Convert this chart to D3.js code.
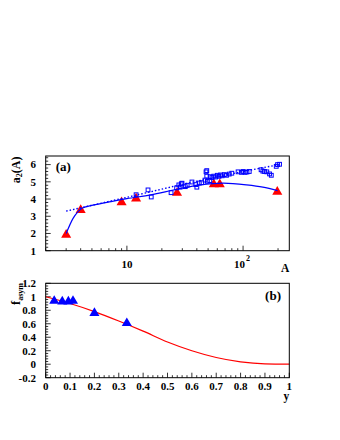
<!DOCTYPE html>
<html><head><meta charset="utf-8">
<script src="https://cdn.jsdelivr.net/npm/d3@7"></script>
<style>
body{margin:0;background:#fff}
text{font-family:"Liberation Serif","Times New Roman",serif;font-weight:bold;fill:#000}
</style>
</head><body>
<svg id="c" width="340" height="440"></svg>
<script>
// ---------- Panel (a) data ----------
const triA   = [3, 4, 9, 12, 27, 56, 63, 197];
const triA2  = [1.97, 3.41, 3.85, 4.08, 4.4, 4.9, 4.9, 4.47];

const sqA  = [12, 15.2, 16.2, 24, 26.8, 28, 28.7, 29.4, 29.8, 31.8, 33, 36.3, 39.2, 40, 42, 44, 47, 48, 48.7, 48.7, 49.3, 51.7, 52, 54, 56, 58, 60, 62, 64, 66, 69, 72, 76, 80, 90.6, 97, 100, 104, 108, 113, 143, 148, 153, 160, 169, 175, 193, 198, 206];
const sqA2 = [4.25, 4.53, 4.12, 4.37, 4.65, 4.82, 4.69, 4.88, 4.92, 4.72, 4.8, 4.99, 4.84, 4.69, 4.93, 4.95, 5.1, 5.58, 5.33, 5.65, 5.03, 5.07, 5.3, 5.25, 5.33, 5.28, 5.38, 5.32, 5.4, 5.35, 5.42, 5.38, 5.45, 5.5, 5.58, 5.55, 5.6, 5.55, 5.57, 5.6, 5.7, 5.62, 5.6, 5.58, 5.46, 5.38, 5.9, 6.0, 6.02];

const fitA  = [3, 3.44, 3.8, 4.1, 5.26, 7.3, 10, 16, 27, 42.8, 67.6, 107, 148, 198];
const fitA2 = [2.0, 2.88, 3.27, 3.47, 3.66, 3.85, 4.02, 4.24, 4.57, 4.82, 4.92, 4.82, 4.69, 4.49];

const dotA  = [3, 10, 30, 100, 205];
const dotA2 = [3.3, 4.1, 4.85, 5.6, 6.0];

const aYTicks = [1, 2, 3, 4, 5, 6];
const aXMajor = [10, 100];
const aXMinor = [2,3,4,5,6,7,8,9,20,30,40,50,60,70,80,90,200];

// ---------- Panel (b) data ----------
const bY    = [0.035, 0.068, 0.093, 0.112, 0.2, 0.333];
const bF    = [0.95, 0.94, 0.94, 0.95, 0.77, 0.62];
const curveY = [0, 0.1, 0.2, 0.3, 0.4, 0.5, 0.6, 0.7, 0.8, 0.9, 1.0];
const curveF = [1.0, 0.9, 0.78, 0.64, 0.49, 0.33, 0.2, 0.1, 0.035, 0.005, 0.0];

const bYTicks = [-0.2, 0, 0.2, 0.4, 0.6, 0.8, 1, 1.2];
const bYLabels = ["-0.2","0","0.2","0.4","0.6","0.8","1","1.2"];
const bXTicks = [0,0.1,0.2,0.3,0.4,0.5,0.6,0.7,0.8,0.9,1];
const bXLabels = ["0","0.1","0.2","0.3","0.4","0.5","0.6","0.7","0.8","0.9","1"];

// ---------- drawing ----------
const svg = d3.select("#c");
svg.append("rect").attr("width",340).attr("height",440).attr("fill","#fff");

const L = 45.7, R = 289.3;
const MAJ = 5, MIN = 2.5;

// Panel (a)
const xa = d3.scaleLog().domain([2, 250]).range([L, R]);
const ya = d3.scaleLinear().domain([1, 6.5]).range([250.7, 156]);
const ga = svg.append("g");

function tickLines(g, list, fn) {
  list.forEach(v => { const [x1,y1,x2,y2] = fn(v);
    g.append("line").attr("x1",x1).attr("y1",y1).attr("x2",x2).attr("y2",y2)
      .attr("stroke","#000").attr("stroke-width",0.8); });
}

const aYMinor = d3.range(1, 6.5001, 0.2).filter(v => Math.abs(v - Math.round(v)) > 1e-6);
tickLines(ga, aYTicks, v => [L, ya(v), L+MAJ, ya(v)]);
tickLines(ga, aYMinor, v => [L, ya(v), L+MIN, ya(v)]);
tickLines(ga, aXMajor, v => [xa(v), ya(1), xa(v), ya(1)-MAJ]);
tickLines(ga, aXMinor, v => [xa(v), ya(1), xa(v), ya(1)-MIN]);

ga.selectAll("text.yl").data(aYTicks).enter().append("text")
  .attr("x", 36).attr("y", d => ya(d)).attr("dy","0.35em")
  .attr("text-anchor","end").attr("font-size",11).text(d => d);

ga.append("text").attr("x", xa(10)).attr("y", 267.5).attr("text-anchor","middle")
  .attr("font-size",11).text("10");
const t100 = ga.append("text").attr("x", xa(100)-1).attr("y", 267.5).attr("text-anchor","middle").attr("font-size",11);
t100.append("tspan").text("10");
t100.append("tspan").attr("font-size",8).attr("dy",-7).attr("dx",1).text("2");

ga.append("text").attr("x", R).attr("y", 271.7).attr("text-anchor","end").attr("font-size",11.5).text("A");

const ta = ga.append("text").attr("transform","translate(19.5,156.5) rotate(-90)")
  .attr("text-anchor","end").attr("font-size",12);
ta.append("tspan").text("a");
ta.append("tspan").attr("font-size",8).attr("dy",2.5).text("2");
ta.append("tspan").attr("dy",-2.5).text("(A)");

ga.append("text").attr("x",55.7).attr("y",170.5).attr("font-size",13).text("(a)");

// marks (a)
const triData = triA.map((a,i) => ({a, v: triA2[i]}));
ga.selectAll("path.tri").data(triData).enter().append("path")
  .attr("d", d3.symbol().type(d3.symbolTriangle).size(44))
  .attr("transform", d => `translate(${xa(d.a)},${ya(d.v)+0.8})`)
  .attr("fill","#ff0000");

const sqData = sqA.map((a,i) => ({a, v: sqA2[i]}));
ga.selectAll("rect.sq").data(sqData).enter().append("rect")
  .attr("x", d => xa(d.a)-1.9).attr("y", d => ya(d.v)-1.9)
  .attr("width",3.8).attr("height",3.8)
  .attr("fill","none").attr("stroke","#0000ff").attr("stroke-width",1);

const lineA = d3.line().x(d => xa(d.a)).y(d => ya(d.v)).curve(d3.curveMonotoneX);
ga.append("path").datum(fitA.map((a,i)=>({a, v: fitA2[i]})))
  .attr("d", lineA).attr("fill","none").attr("stroke","#0000ff").attr("stroke-width",1.2);
ga.append("path").datum(dotA.map((a,i)=>({a, v: dotA2[i]})))
  .attr("d", lineA).attr("fill","none").attr("stroke","#0000ff").attr("stroke-width",1.4)
  .attr("stroke-dasharray","1.5,2");

ga.append("rect").attr("x",L).attr("y",156).attr("width",R-L).attr("height",250.7-156)
  .attr("fill","none").attr("stroke","#000").attr("stroke-width",1);

// Panel (b)
const xb = d3.scaleLinear().domain([0, 1]).range([L, R]);
const yb = d3.scaleLinear().domain([-0.2, 1.2]).range([377.7, 283.3]);
const gb = svg.append("g");

const bYMinor = d3.range(-0.2, 1.2001, 0.04).filter(v => Math.abs(v/0.2 - Math.round(v/0.2)) > 1e-4);
const bXMinor = d3.range(0, 1.0001, 0.02).filter(v => Math.abs(v/0.1 - Math.round(v/0.1)) > 1e-4);
tickLines(gb, bYTicks, v => [L, yb(v), L+MAJ, yb(v)]);
tickLines(gb, bYMinor, v => [L, yb(v), L+MIN, yb(v)]);
tickLines(gb, bXTicks, v => [xb(v), yb(-0.2), xb(v), yb(-0.2)-MAJ]);
tickLines(gb, bXMinor, v => [xb(v), yb(-0.2), xb(v), yb(-0.2)-MIN]);

gb.selectAll("text.yl").data(bYTicks).enter().append("text")
  .attr("x", 36).attr("y", d => yb(d)).attr("dy","0.35em")
  .attr("text-anchor","end").attr("font-size",11).text((d,i) => bYLabels[i]);
gb.selectAll("text.xl").data(bXTicks).enter().append("text")
  .attr("x", d => xb(d)).attr("y", 389.5).attr("text-anchor","middle")
  .attr("font-size",11).text((d,i) => bXLabels[i]);

gb.append("text").attr("x", R).attr("y", 399.5).attr("text-anchor","end").attr("font-size",11.5).text("y");

const tb = gb.append("text").attr("transform","translate(20,283) rotate(-90)")
  .attr("text-anchor","end").attr("font-size",12.5);
tb.append("tspan").text("f");
tb.append("tspan").attr("font-size",8).attr("dy",3).text("asym");

gb.append("text").attr("x",281).attr("y",299.5).attr("text-anchor","end").attr("font-size",13).text("(b)");

const lineB = d3.line().x(d => xb(d.y)).y(d => yb(d.f)).curve(d3.curveMonotoneX);
gb.append("path").datum(curveY.map((y,i)=>({y, f: curveF[i]})))
  .attr("d", lineB).attr("fill","none").attr("stroke","#ff0000").attr("stroke-width",1.2);

gb.selectAll("path.btri").data(bY.map((y,i)=>({y, f: bF[i]}))).enter().append("path")
  .attr("d", d3.symbol().type(d3.symbolTriangle).size(44))
  .attr("transform", d => `translate(${xb(d.y)},${yb(d.f)+0.8})`)
  .attr("fill","#0000ff");

gb.append("rect").attr("x",L).attr("y",283.3).attr("width",R-L).attr("height",377.7-283.3)
  .attr("fill","none").attr("stroke","#000").attr("stroke-width",1);
</script>
</body></html>
